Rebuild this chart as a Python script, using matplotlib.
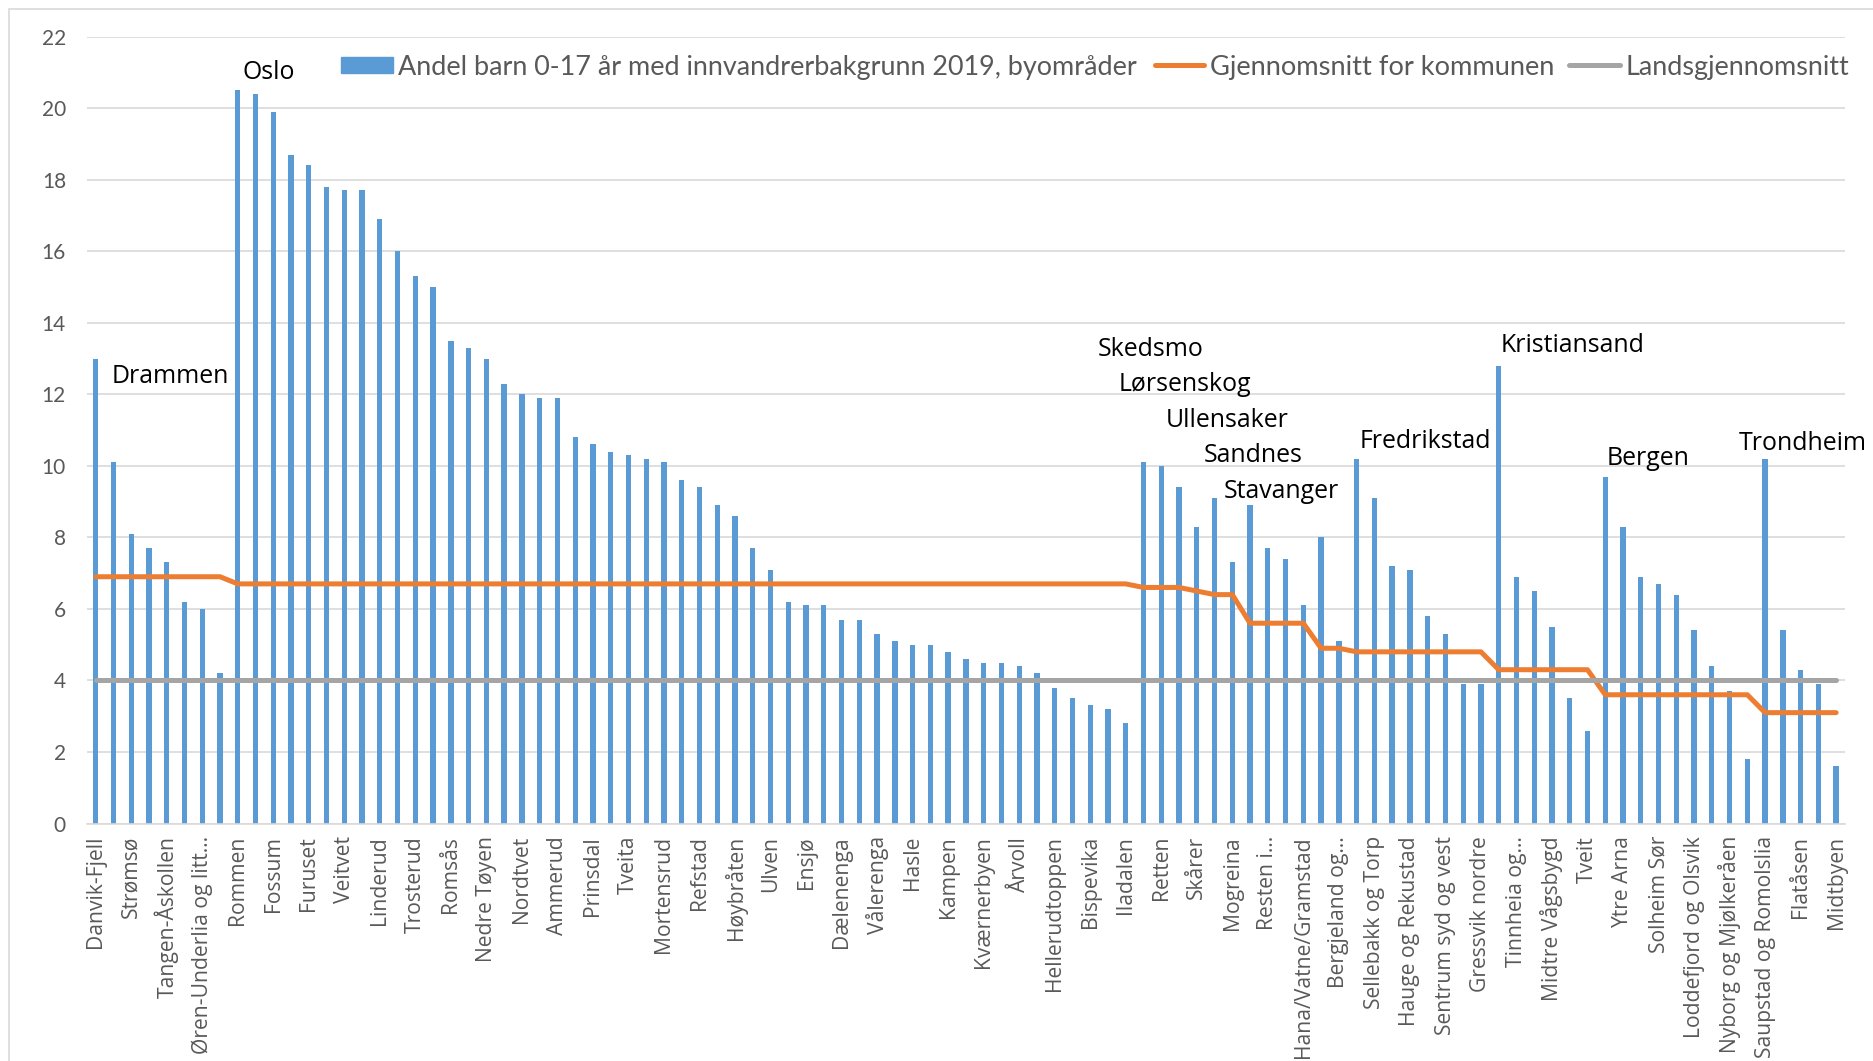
import matplotlib
matplotlib.use("Agg")
import matplotlib.pyplot as plt
from matplotlib.patches import Rectangle
from matplotlib.lines import Line2D
import numpy as np

# ---------------- data ----------------
values = [13.0, 10.1, 8.1, 7.7, 7.3, 6.2, 6.0, 4.2,
          20.5, 20.4, 19.9, 18.7, 18.4, 17.8, 17.7, 17.7, 16.9, 16.0,
          15.3, 15.0, 13.5, 13.3, 13.0, 12.3, 12.0, 11.9, 11.9, 10.8,
          10.6, 10.4, 10.3, 10.2, 10.1, 9.6, 9.4, 8.9, 8.6, 7.7,
          7.1, 6.2, 6.1, 6.1, 5.7, 5.7, 5.3, 5.1, 5.0, 5.0,
          4.8, 4.6, 4.5, 4.5, 4.4, 4.2, 3.8, 3.5, 3.3, 3.2, 2.8,
          10.1, 10.0, 9.4, 8.3, 9.1, 7.3, 8.9, 7.7, 7.4, 6.1, 8.0, 5.1,
          10.2, 9.1, 7.2, 7.1, 5.8, 5.3, 3.9, 3.9,
          12.8, 6.9, 6.5, 5.5, 3.5, 2.6,
          9.7, 8.3, 6.9, 6.7, 6.4, 5.4, 4.4, 3.7, 1.8,
          10.2, 5.4, 4.3, 3.9, 1.6]

kommune_avg = ([6.9] * 8 + [6.7] * 51 + [6.6] * 3 + [6.5] + [6.4] * 2 +
               [5.6] * 4 + [4.9] * 2 + [4.8] * 8 + [4.3] * 6 + [3.6] * 9 +
               [3.1] * 5)

lands_avg = [4.0] * 99

tick_labels = ["Danvik-Fjell", "Strømsø", "Tangen-Åskollen", "Øren-Underlia og litt…",
               "Rommen", "Fossum", "Furuset", "Veitvet", "Linderud", "Trosterud",
               "Romsås", "Nedre Tøyen", "Nordtvet", "Ammerud", "Prinsdal", "Tveita",
               "Mortensrud", "Refstad", "Høybråten", "Ulven", "Ensjø", "Dælenenga",
               "Vålerenga", "Hasle", "Kampen", "Kværnerbyen", "Årvoll", "Hellerudtoppen",
               "Bispevika", "Iladalen", "Retten", "Skårer", "Mogreina", "Resten i…",
               "Hana/Vatne/Gramstad", "Bergjeland og…", "Sellebakk og Torp",
               "Hauge og Rekustad", "Sentrum syd og vest", "Gressvik nordre",
               "Tinnheia og…", "Midtre Vågsbygd", "Tveit", "Ytre Arna", "Solheim Sør",
               "Loddefjord og Olsvik", "Nyborg og Mjølkeråen", "Saupstad og Romolslia",
               "Flatåsen", "Midtbyen"]

series_names = ["Andel barn 0-17 år med innvandrerbakgrunn 2019, byområder",
                "Gjennomsnitt for kommunen", "Landsgjennomsnitt"]

city_names = ["Oslo", "Drammen", "Skedsmo", "Lørsenskog", "Ullensaker", "Sandnes",
              "Stavanger", "Fredrikstad", "Kristiansand", "Bergen", "Trondheim"]

yticks = list(range(0, 23, 2))

# ---------------- style ----------------
BLUE = "#5B9BD5"
ORANGE = "#ED7D31"
GRAY = "#A5A5A5"
GRID = "#D9D9D9"
TXT = "#595959"

W, H = 1874, 1061
fig = plt.figure(figsize=(W / 100, H / 100), dpi=100)
fig.patch.set_facecolor("white")


def fx(px):
    return px / W


def fy(py):
    return 1 - py / H


# chart border
fig.patches.append(Rectangle((fx(9), fy(1070)), fx(1880) - fx(9), fy(9) - fy(1070),
                             transform=fig.transFigure, fill=False,
                             edgecolor=GRID, lw=1.2))

left, right, top, bottom = 86.8, 1845, 36.7, 823.5
ax = fig.add_axes([fx(left), fy(bottom), fx(right) - fx(left), fy(top) - fy(bottom)])

x = np.arange(len(values))
ax.bar(x, values, width=0.3, color=BLUE, zorder=2)
ax.plot(x, kommune_avg, color=ORANGE, lw=3.6, zorder=3,
        solid_joinstyle="round", solid_capstyle="round")
ax.plot(x, lands_avg, color=GRAY, lw=3.6, zorder=4,
        solid_capstyle="round")

ax.set_xlim(-0.5, len(values) - 0.5)
ax.set_ylim(0, 22)
ax.set_yticks(yticks)
ax.yaxis.grid(True, color=GRID, lw=1.2, zorder=0)
ax.set_axisbelow(True)
for s in ["left", "right", "top"]:
    ax.spines[s].set_visible(False)
ax.spines["bottom"].set_color(GRID)
ax.spines["bottom"].set_linewidth(1.2)

ax.set_xticks(x[::2])
ax.set_xticklabels(tick_labels, rotation=90, family="Open Sans", color=TXT, fontsize=13)
ax.tick_params(axis="x", length=0, pad=9)
ax.tick_params(axis="y", length=0, pad=15, labelcolor=TXT, labelsize=15)
for t in ax.get_yticklabels():
    t.set_family("Lato")

# legend (manual)
legend_y = 65
fig.patches.append(Rectangle((fx(341), fy(73.3)), fx(393) - fx(341), fy(56.7) - fy(73.3),
                             transform=fig.transFigure, color=BLUE))
fig.lines.append(Line2D([fx(1155), fx(1204)], [fy(legend_y), fy(legend_y)],
                        transform=fig.transFigure, color=ORANGE, lw=3.6,
                        solid_capstyle="round"))
fig.lines.append(Line2D([fx(1569), fx(1620)], [fy(legend_y), fy(legend_y)],
                        transform=fig.transFigure, color=GRAY, lw=3.6,
                        solid_capstyle="round"))
leg_specs = [(398, 1141), (1210, 1556), (1626, 1851)]
leg_texts = []
for name, (x0, x1) in zip(series_names, leg_specs):
    t = fig.text(fx(x0), fy(legend_y), name, ha="left", va="center_baseline",
                 family="Lato", color=TXT, fontsize=20)
    leg_texts.append((t, x1 - x0))

# city annotations: (left px, baseline px)
city_pos = [(242, 79), (112, 383), (1098, 356), (1119, 391), (1166, 427),
            (1204, 462), (1224, 498), (1360, 448), (1501, 352), (1607, 465),
            (1739, 450)]
city_texts = []
for name, (px, py) in zip(city_names, city_pos):
    t = fig.text(fx(px), fy(py), name, ha="left", va="baseline",
                 family="Open Sans", color="black", fontsize=19)
    city_texts.append(t)

# ---- fit font sizes to measured widths ----
fig.canvas.draw()
r = fig.canvas.get_renderer()
for t, target in leg_texts:
    w = t.get_window_extent(r).width
    t.set_fontsize(t.get_fontsize() * target / w)

kri = city_texts[city_names.index("Kristiansand")]
k = 144 / kri.get_window_extent(r).width
for t in city_texts:
    t.set_fontsize(t.get_fontsize() * k)

xl = ax.get_xticklabels()[0]
kx = 112 / xl.get_window_extent(r).height
xs = xl.get_fontsize() * kx
for t in ax.get_xticklabels():
    t.set_fontsize(xs)

fig.savefig("out.png", dpi=100, facecolor="white")
